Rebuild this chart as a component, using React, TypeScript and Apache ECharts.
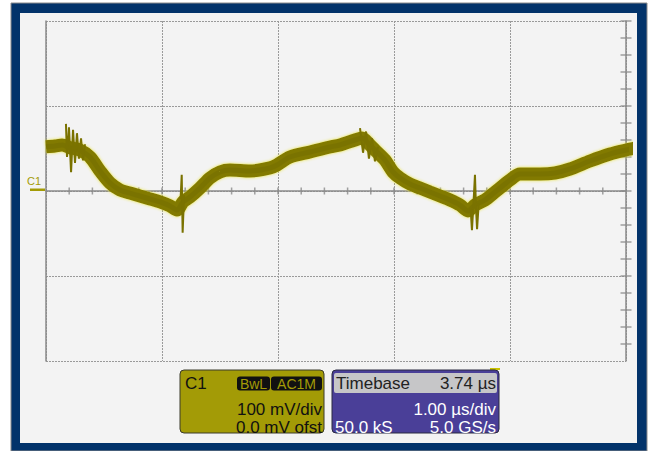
import React, { useEffect, useRef } from "react";
import * as echarts from "echarts";

// Trace centre (time in µs, voltage in mV)
const TIME = [0, 0.078, 0.138, 0.207, 0.293, 0.379, 0.466, 0.552, 0.638, 0.724, 0.81, 0.897, 0.983, 1.069, 1.129, 1.181, 1.241, 1.328, 1.414, 1.5, 1.586, 1.759, 1.931, 1.991, 2.103, 2.276, 2.448, 2.534, 2.664, 2.724, 2.793, 2.836, 2.922, 2.991, 3.052, 3.138, 3.224, 3.31, 3.397, 3.483, 3.569, 3.638, 3.698, 3.784, 3.871, 3.914, 4.0, 4.086, 4.259, 4.388, 4.517, 4.69, 4.862, 5.0, 5.086];
const VOLT = [52, 53, 54, 51, 48, 40, 23.5, 9.4, 1.2, -2.4, -5.9, -9.4, -12.9, -17.6, -22.4, -12.9, -7.1, 3.5, 15.3, 22.4, 24.7, 23.5, 27.1, 30.6, 40, 45.9, 51.8, 54.1, 60, 62.4, 54.1, 48.2, 36.5, 22.4, 15.3, 8.2, 3.5, -1.2, -5.9, -10.6, -16.5, -23.5, -16.5, -10.6, -1.2, 3.5, 12.9, 20, 20, 21.2, 25.9, 35.3, 43.5, 48.2, 50.6];

// Noise spikes (null separates clusters)
const SPIKE_T = [0.172, 0.181, 0.198, 0.216, 0.233, 0.25, 0.267, 0.284, 0.302, 0.319, 0.336, null, 1.16, 1.17, 1.178, 1.19, null, 2.707, 2.733, 2.759, 2.784, 2.81, 2.836, 2.862, null, 3.66, 3.672, 3.685, 3.698, 3.707, 3.716, 3.73];
const SPIKE_V = [79, 40, 75, 22, 72, 33, 68, 38, 62, 36, 55, null, -10, 19, -49, -5, null, 74, 45, 70, 38, 62, 35, 52, null, -20, -46, -15, 19, -20, -45, -15];

// Axis ticks
const X_TICKS = [0.2, 0.4, 0.6, 0.8, 1.2, 1.4, 1.6, 1.8, 2.2, 2.4, 2.6, 2.8, 3.2, 3.4, 3.6, 3.8, 4.2, 4.4, 4.6, 4.8, 1, 2, 3, 4];
const Y_TICKS = [-180, -160, -140, -120, -100, -80, -60, -40, -20, 0, 20, 40, 60, 80, 100, 120, 140, 160, 180, 200];

const FONT = '"Liberation Sans", Arial, sans-serif';
const OLIVE = "#a39b06";
const PURPLE = "#4a3f98";

export default function App() {
  const ref = useRef<HTMLDivElement>(null);
  useEffect(() => {
    if (!ref.current) return;
    const chart = echarts.init(ref.current, null, { renderer: "svg" });
    const trace = TIME.map((t, i) => [t, VOLT[i]]);
    const spikes = SPIKE_T.map((t, i) => (t === null ? [null, null] : [t, SPIKE_V[i]]));
    const txt = (x: number, y: number, s: string, size: number, fill: string, align = "left") => ({
      type: "text",
      x,
      y,
      z: 102,
      style: { text: s, fontSize: size, fill, fontFamily: FONT, align, verticalAlign: "middle" },
    });
    chart.setOption({
      animation: false,
      backgroundColor: "#ffffff",
      grid: { left: 46, right: 29, top: 21, bottom: 90 },
      xAxis: {
        type: "value",
        min: 0,
        max: 5,
        interval: 1,
        axisLine: { show: true, onZero: true, lineStyle: { color: "#8a8a8a", width: 1.5 } },
        axisTick: { show: false },
        axisLabel: { show: false },
        splitLine: { show: true, lineStyle: { color: "#9a9a9a", type: [2, 1], width: 1 } },
      },
      yAxis: [
        {
          type: "value",
          min: -200,
          max: 200,
          interval: 100,
          position: "left",
          axisLine: { show: true, lineStyle: { color: "#8a8a8a", width: 1.5 } },
          axisTick: { show: false },
          axisLabel: { show: false },
          splitLine: { show: true, lineStyle: { color: "#9a9a9a", type: [2, 1], width: 1 } },
        },
        {
          type: "value",
          min: -200,
          max: 200,
          interval: 100,
          position: "right",
          axisLine: { show: true, lineStyle: { color: "#8a8a8a", width: 1.5 } },
          axisTick: { show: false },
          axisLabel: { show: false },
          splitLine: { show: false },
        },
      ],
      series: [
        {
          type: "scatter",
          data: X_TICKS.map((t) => [t, 0]),
          symbol: "rect",
          symbolSize: [1.5, 7],
          itemStyle: { color: "#8a8a8a" },
          silent: true,
          z: 1,
        },
        {
          type: "scatter",
          data: Y_TICKS.map((v) => [5, v]),
          symbol: "rect",
          symbolSize: [11, 1.5],
          itemStyle: { color: "#8a8a8a" },
          silent: true,
          z: 1,
        },
        {
          type: "line",
          data: trace,
          clip: false,
          showSymbol: false,
          smooth: 0.3,
          lineStyle: {
            color: "#827a00",
            width: 13,
            shadowColor: "rgba(230,225,40,0.9)",
            shadowBlur: 3,
          },
          z: 3,
        },
        {
          type: "line",
          data: trace,
          clip: false,
          showSymbol: false,
          smooth: 0.3,
          lineStyle: { color: "#6a6300", width: 5, opacity: 0.3 },
          z: 4,
        },
        {
          type: "line",
          data: spikes,
          connectNulls: false,
          showSymbol: false,
          lineStyle: { color: "#7a7200", width: 2 },
          z: 4,
        },
      ],
      graphic: [
        { type: "rect", z: -11, shape: { x: 11, y: 3, width: 636, height: 448 }, style: { fill: "#02336a", stroke: "#8a8a8a", lineWidth: 1 } },
        { type: "rect", z: -10, shape: { x: 20, y: 13, width: 617, height: 430 }, style: { fill: "#f3f3f3" } },
        // C1 marker
        txt(27, 180.5, "C1", 11, OLIVE),
        { type: "rect", z: 5, shape: { x: 30, y: 188.5, width: 15, height: 2.5 }, style: { fill: OLIVE } },
        // trigger marker
        { type: "rect", z: 5, shape: { x: 490, y: 368, width: 10, height: 2 }, style: { fill: "#c9c200" } },
        // C1 box
        { type: "rect", z: 100, shape: { x: 180, y: 370, width: 144, height: 63, r: 4 }, style: { fill: OLIVE, stroke: "#3a3a2a", lineWidth: 1 } },
        txt(185, 383, "C1", 17, "#111"),
        { type: "rect", z: 101, shape: { x: 237, y: 376.5, width: 33, height: 14, r: 3 }, style: { fill: "#111" } },
        { type: "rect", z: 101, shape: { x: 271, y: 376.5, width: 51, height: 14, r: 3 }, style: { fill: "#111" } },
        txt(253.5, 384, "BwL", 14, OLIVE, "center"),
        txt(296.5, 384, "AC1M", 14, OLIVE, "center"),
        txt(322, 409, "100 mV/div", 17, "#111", "right"),
        txt(322, 427, "0.0 mV ofst", 17, "#111", "right"),
        // Timebase box
        { type: "rect", z: 100, shape: { x: 332, y: 370, width: 167, height: 63, r: 4 }, style: { fill: PURPLE, stroke: "#2a2a40", lineWidth: 1 } },
        { type: "rect", z: 101, shape: { x: 334, y: 373, width: 163, height: 20, r: 2 }, style: { fill: "#c6c6c8" } },
        txt(336, 383.5, "Timebase", 17, "#222"),
        txt(496, 383.5, "3.74 µs", 17, "#222", "right"),
        txt(496, 409, "1.00 µs/div", 17, "#ffffff", "right"),
        txt(335, 427, "50.0 kS", 17, "#ffffff"),
        txt(496, 427, "5.0 GS/s", 17, "#ffffff", "right"),
      ],
    });
    return () => chart.dispose();
  }, []);
  return <div ref={ref} style={{ position: "fixed", left: 0, top: 0, width: 655, height: 451 }} />;
}
